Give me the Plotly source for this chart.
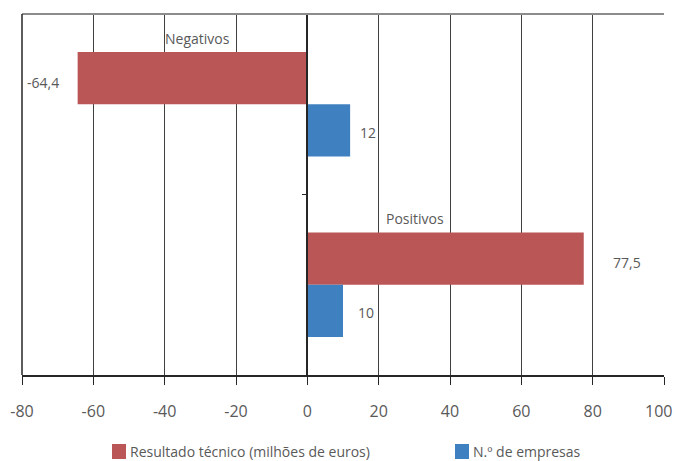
import plotly.graph_objects as go

categories = ["Negativos", "Positivos"]
resultado = [-64.4, 77.5]
empresas = [12, 10]
series_names = ["Resultado técnico (milhões de euros)", "N.º de empresas"]
tick_vals = [-80, -60, -40, -20, 0, 20, 40, 60, 80, 100]
tick_text = ["-80", "-60", "-40", "-20", "0", "20", "40", "60", "80", "100"]

RED = "#BB5657"
BLUE = "#3F80C0"
TXT = "#595959"
FONT = "Open Sans"

W, H = 676, 461
ML, MR, MT, MB = 22, 12, 14, 86
PW, PH = W - ML - MR, H - MT - MB

def px_x(x):
    return (x - ML) / PW

def px_y(y):
    return (H - MB - y) / PH

def fmt(v):
    s = ("%.1f" % v) if v != int(v) else str(int(v))
    return s.replace(".", ",")

colors = [RED, BLUE]
fig = go.Figure()
fig.add_trace(go.Bar(y=categories, x=resultado, orientation="h", name=series_names[0],
                     marker=dict(color=RED, line=dict(width=0)), showlegend=False))
fig.add_trace(go.Bar(y=categories, x=empresas, orientation="h", name=series_names[1],
                     marker=dict(color=BLUE, line=dict(width=0)), showlegend=False))

xmin, xmax = -80, 100

# value labels (x shift in px relative to bar end, for styling only)
label_shift = {("r", 0): -35, ("r", 1): 43, ("b", 0): 18, ("b", 1): 23}
for i, c in enumerate(categories):
    fig.add_annotation(x=resultado[i], y=c, text=fmt(resultado[i]), showarrow=False,
                       xshift=label_shift[("r", i)], yshift=26 - 4,
                       font=dict(family=FONT, size=14, color=TXT))
    fig.add_annotation(x=empresas[i], y=c, text=fmt(empresas[i]), showarrow=False,
                       xshift=label_shift[("b", i)], yshift=-26 - 2,
                       font=dict(family=FONT, size=14, color=TXT))

# category labels
cat_x = [-30.7, 30.2]
for i, c in enumerate(categories):
    fig.add_annotation(x=cat_x[i], y=c, text=c, showarrow=False, yshift=66,
                       font=dict(family=FONT, size=14, color=TXT))

# last tick label drawn right-aligned so that it stays inside the page
axis_ticktext = tick_text[:-1] + [""]
fig.add_annotation(x=tick_vals[-1], xref="x", yref="paper", y=px_y(410.5),
                   xanchor="right", yanchor="middle", xshift=10, showarrow=False,
                   text=tick_text[-1], font=dict(family=FONT, size=16, color=TXT))

# top border
fig.add_shape(type="line", xref="paper", yref="paper", x0=0, x1=1, y0=1, y1=1,
              line=dict(color="#8C8C8C", width=2))
# left border
fig.add_shape(type="line", xref="paper", yref="paper", x0=0, x1=0, y0=0, y1=1,
              line=dict(color="#262626", width=1.5))

# legend (manual)
leg_x = [112, 455]
for name, col, lx in zip(series_names, colors, leg_x):
    fig.add_shape(type="rect", xref="paper", yref="paper",
                  x0=px_x(lx), x1=px_x(lx + 14), y0=px_y(459), y1=px_y(444),
                  fillcolor=col, line=dict(width=0))
    fig.add_annotation(xref="paper", yref="paper", x=px_x(lx + 16), y=px_y(451.5),
                       xanchor="left", yanchor="middle", text=name, showarrow=False,
                       font=dict(family=FONT, size=14, color=TXT))

fig.update_layout(
    width=W, height=H,
    margin=dict(l=ML, r=MR, t=MT, b=MB, autoexpand=False),
    paper_bgcolor="white", plot_bgcolor="white",
    barmode="group", bargap=0.42, bargroupgap=0,
    font=dict(family=FONT, size=14, color=TXT),
    showlegend=False,
    xaxis=dict(range=[xmin, xmax], tickvals=tick_vals, ticktext=axis_ticktext,
               showgrid=True, gridcolor="#404040", gridwidth=1,
               zeroline=True, zerolinecolor="#262626", zerolinewidth=1.5,
               showline=True, linecolor="#262626", linewidth=1.5,
               ticks="outside", ticklen=8, tickcolor="#262626",
               tickfont=dict(family=FONT, size=16, color=TXT), ticklabelstandoff=13,
               ticklabeloverflow="allow", automargin=False),
    yaxis=dict(autorange="reversed", type="category", showticklabels=False,
               showgrid=False, zeroline=False, automargin=False,
               anchor="free", position=(0 - xmin) / (xmax - xmin),
               showline=True, linecolor="#262626", linewidth=1.5,
               ticks="outside", tickson="boundaries", ticklen=5, tickcolor="#262626"),
)

fig.write_html("out.html", config={"displayModeBar": False},
               post_script="document.body.style.margin='0';document.body.style.overflow='hidden';")
